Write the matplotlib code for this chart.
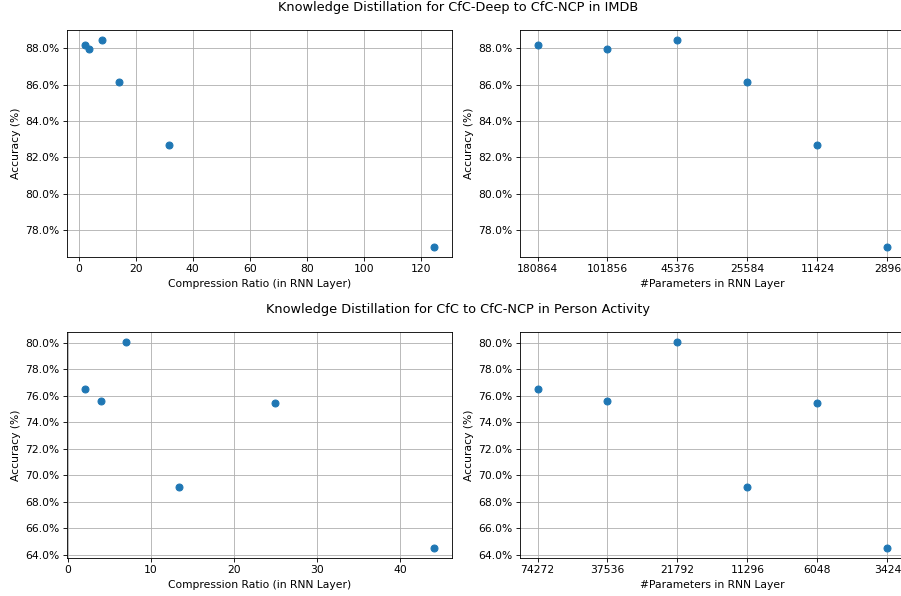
import matplotlib
matplotlib.use('Agg')
import matplotlib.pyplot as plt
from matplotlib.ticker import PercentFormatter, MultipleLocator

# IMDB: CfC-Deep -> CfC-NCP
imdb_params = ['180864', '101856', '45376', '25584', '11424', '2896']
imdb_ratio = [2.0, 3.55, 7.97, 14.14, 31.66, 124.9]
imdb_acc = [88.18, 87.98, 88.44, 86.13, 82.68, 77.09]

# Person Activity: CfC -> CfC-NCP
pa_params = ['74272', '37536', '21792', '11296', '6048', '3424']
pa_ratio = [2.02, 4.05, 6.95, 13.4, 24.95, 44.1]
pa_acc = [76.47, 75.6, 80.02, 69.13, 75.48, 64.55]

DPI = 77
fig = plt.figure(figsize=(902 / DPI, 596 / DPI), dpi=DPI)

# axes placement (left, bottom, width, height)
ax_tl = fig.add_axes([0.0743, 0.5688, 0.4268, 0.3809])
ax_tr = fig.add_axes([0.5765, 0.5688, 0.4268, 0.3809])
ax_bl = fig.add_axes([0.0743, 0.0638, 0.4268, 0.3792])
ax_br = fig.add_axes([0.5765, 0.0638, 0.4268, 0.3792])

rows = [
    (ax_tl, ax_tr, imdb_ratio, imdb_params, imdb_acc),
    (ax_bl, ax_br, pa_ratio, pa_params, pa_acc),
]

for ax_l, ax_r, ratio, params, acc in rows:
    ax_l.scatter(ratio, acc, s=42)
    ax_l.set_xlabel('Compression Ratio (in RNN Layer)')
    ax_l.set_ylabel('Accuracy (%)')

    ax_r.scatter(range(len(params)), acc, s=42)
    ax_r.set_xticks(range(len(params)))
    ax_r.set_xticklabels(params)
    ax_r.set_xlabel('#Parameters in RNN Layer')
    ax_r.set_ylabel('Accuracy (%)')

    for ax in (ax_l, ax_r):
        ax.yaxis.set_major_locator(MultipleLocator(2))
        ax.yaxis.set_major_formatter(PercentFormatter(xmax=100, decimals=1))
        ax.grid(True)
        ax.set_axisbelow(True)

fig.text(0.508, 0.988, 'Knowledge Distillation for CfC-Deep to CfC-NCP in IMDB',
         ha='center', va='center', fontsize=12)
fig.text(0.508, 0.4815, 'Knowledge Distillation for CfC to CfC-NCP in Person Activity',
         ha='center', va='center', fontsize=12)

fig.savefig('out.png', dpi=DPI)
